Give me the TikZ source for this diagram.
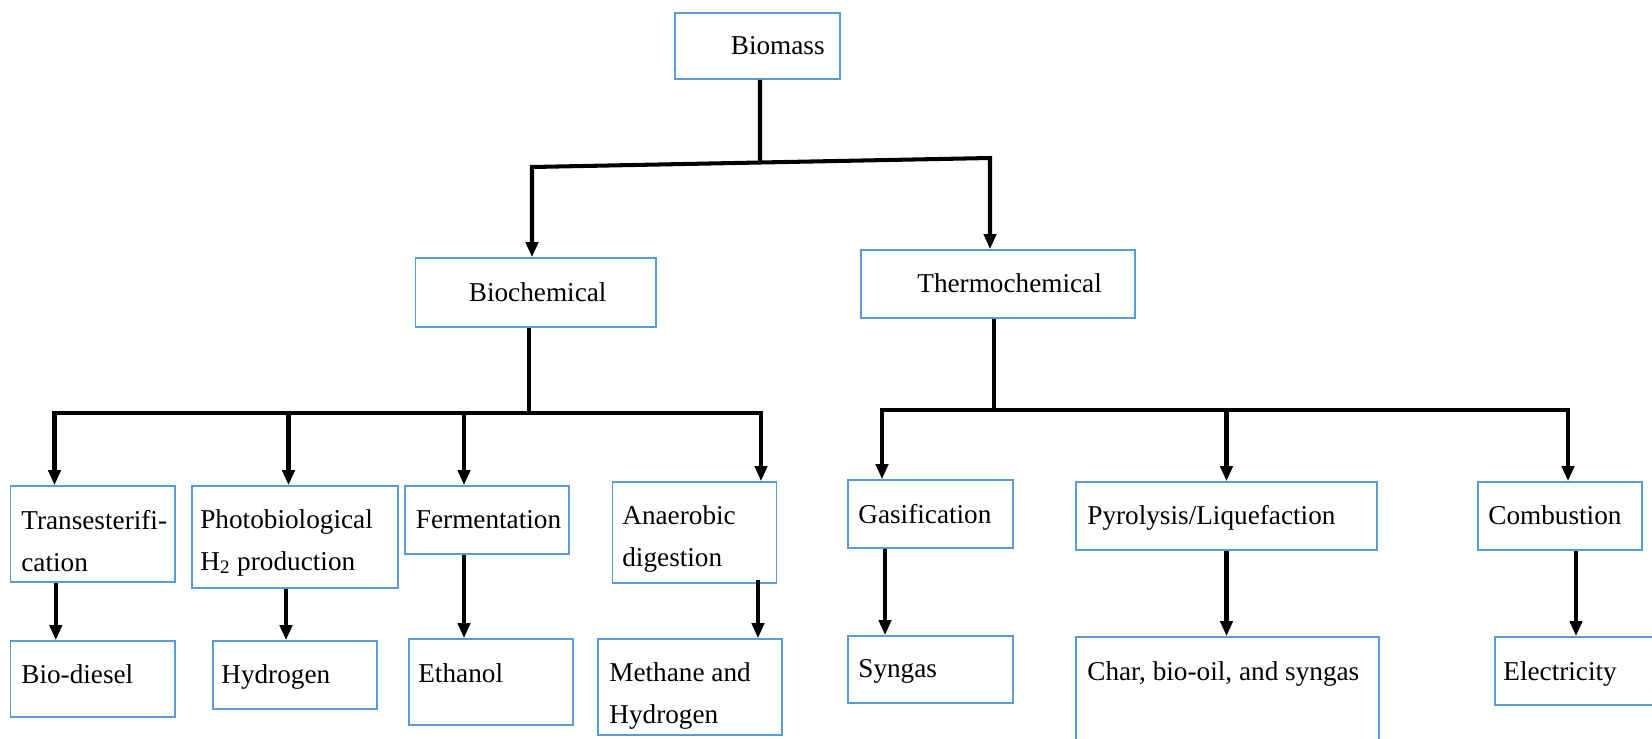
\documentclass[tikz,border=0pt]{standalone}
\usepackage{fontspec}
\setmainfont{Liberation Serif}
\usetikzlibrary{arrows.meta}
\definecolor{boxblue}{RGB}{91,155,213}
\tikzset{
    box/.style={shape=rectangle, draw=boxblue, line width=0.9pt, inner sep=0},
    txt/.style={inner sep=0, align=left, anchor=base west},
    wire/.style={line width=2.3pt, line join=miter},
    arr/.style={wire, -{Triangle[length=0.3cm, width=0.24cm]}},
}
\begin{document}
\begin{tikzpicture}[x=0.02cm, y=-0.02cm, font=\fontsize{15.5}{23.7}\selectfont]
        \useasboundingbox (0, 0) rectangle (1652, 738);
        \clip (0, 0) rectangle (1652, 738);
        % Boxes and their texts (two-line texts sit on the baseline of their last line):
        \node[box, minimum width=3.30cm, minimum height=1.32cm](Biomass) at (757.5, 46){};
        \node[txt](BiomassT) at (730.5, 54){Biomass};
        \node[box, minimum width=4.81cm, minimum height=1.38cm](Biochem) at (535.75, 292.5){};
        \node[txt](BiochemT) at (468.5, 301){Biochemical};
        \node[box, minimum width=5.48cm, minimum height=1.36cm](Thermo) at (998, 284){};
        \node[txt](ThermoT) at (917, 292){Thermochemical};
        % Biochemical routes
        \node[box, minimum width=3.29cm, minimum height=1.92cm](Trans) at (92.8, 534){};
        \node[txt](TransT) at (21, 571){Transesterifi-\\cation};
        \node[box, minimum width=4.12cm, minimum height=2.04cm](Photo) at (295, 537){};
        \node[txt](PhotoT) at (200, 570){Photobiological\\H\textsubscript{2} production};
        \node[box, minimum width=3.28cm, minimum height=1.36cm](Ferm) at (487, 520){};
        \node[txt](FermT) at (415.6, 528){Fermentation};
        \node[box, minimum width=3.28cm, minimum height=2.02cm](Anaer) at (694.5, 532.5){};
        \node[txt](AnaerT) at (622, 566){Anaerobic\\digestion};
        \node[box, minimum width=3.29cm, minimum height=1.52cm](Diesel) at (92.8, 679){};
        \node[txt](DieselT) at (21, 683){Bio-diesel};
        \node[box, minimum width=3.28cm, minimum height=1.36cm](Hydro) at (295, 675){};
        \node[txt](HydroT) at (221, 683){Hydrogen};
        \node[box, minimum width=3.28cm, minimum height=1.72cm](Ethanol) at (491, 682){};
        \node[txt](EthanolT) at (418, 682){Ethanol};
        \node[box, minimum width=3.68cm, minimum height=1.92cm](Methane) at (690, 687){};
        \node[txt](MethaneT) at (609, 723){Methane and\\Hydrogen};
        % Thermochemical routes
        \node[box, minimum width=3.30cm, minimum height=1.36cm](Gasif) at (930.5, 514){};
        \node[txt](GasifT) at (858, 523){Gasification};
        \node[box, minimum width=6.02cm, minimum height=1.36cm](Pyro) at (1226.5, 516){};
        \node[txt](PyroT) at (1087, 524){Pyrolysis/Liquefaction};
        \node[box, minimum width=3.28cm, minimum height=1.36cm](Comb) at (1560, 516){};
        \node[txt](CombT) at (1488, 524){Combustion};
        \node[box, minimum width=3.30cm, minimum height=1.34cm](Syngas) at (930.5, 669.5){};
        \node[txt](SyngasT) at (858, 677){Syngas};
        \node[box, minimum width=6.06cm, minimum height=2.46cm](Char) at (1227.5, 698.5){};
        \node[txt](CharT) at (1087, 680){Char, bio-oil, and syngas};
        \node[box, minimum width=3.50cm, minimum height=1.36cm](Elec) at (1582.5, 671){};
        \node[txt](ElecT) at (1503, 680){Electricity};
        % Bus points:
        \coordinate (topL) at (532, 167);
        \coordinate (topJ) at (760, 162.5);
        \coordinate (topR) at (990, 158);
        \coordinate (bioL) at (54.5, 413);
        \coordinate (bioR) at (761, 413);
        \coordinate (thL) at (882, 410);
        \coordinate (thR) at (1568, 410);
        % Wires and arrows:
        \draw[wire] ([xshift=0.05cm]Biomass.south) -- (topJ);
        \draw[arr] (topJ) -- (topL) -- (topL |- Biochem.north);
        \draw[arr] (topJ) -- (topR) -- (topR |- Thermo.north);
        \draw[wire] ([xshift=-0.135cm]Biochem.south) -- ([xshift=-0.135cm]Biochem.south |- bioL);
        \draw[arr] (bioL -| bioR) -- (bioL) -- (bioL |- Trans.north);
        \draw[arr] (bioL) -- (bioR) -- (bioR |- Anaer.north);
        \draw[arr] ([xshift=-0.13cm]Photo.north |- bioL) -- ([xshift=-0.13cm]Photo.north);
        \draw[arr] ([xshift=-0.46cm]Ferm.north |- bioL) -- ([xshift=-0.46cm]Ferm.north);
        \draw[wire] ([xshift=-0.08cm]Thermo.south) -- ([xshift=-0.08cm]Thermo.south |- thL);
        \draw[arr] (thR) -- (thL) -- (thL |- Gasif.north);
        \draw[arr] (thL) -- (thR) -- (thR |- Comb.north);
        \draw[arr] (Pyro.north |- thL) -- (Pyro.north);
        \draw[arr] ([xshift=-0.74cm]Trans.south) -- ([xshift=-0.74cm]Trans.south |- Diesel.north);
        \draw[arr] ([xshift=-0.18cm]Photo.south) -- ([xshift=-0.18cm]Photo.south |- Hydro.north);
        \draw[arr] ([xshift=-0.46cm]Ferm.south) -- ([xshift=-0.46cm]Ferm.south |- Ethanol.north);
        \draw[arr] ([xshift=1.27cm, yshift=0.08cm]Anaer.south) -- ([xshift=1.27cm]Anaer.south |- Methane.north);
        \draw[arr] ([xshift=-0.91cm]Gasif.south) -- ([xshift=-0.91cm]Gasif.south |- Syngas.north);
        \draw[arr] (Pyro.south) -- (Char.north -| Pyro.south);
        \draw[arr] ([xshift=0.32cm]Comb.south) -- ([xshift=0.32cm]Comb.south |- Elec.north);
    \end{tikzpicture}
\end{document}
